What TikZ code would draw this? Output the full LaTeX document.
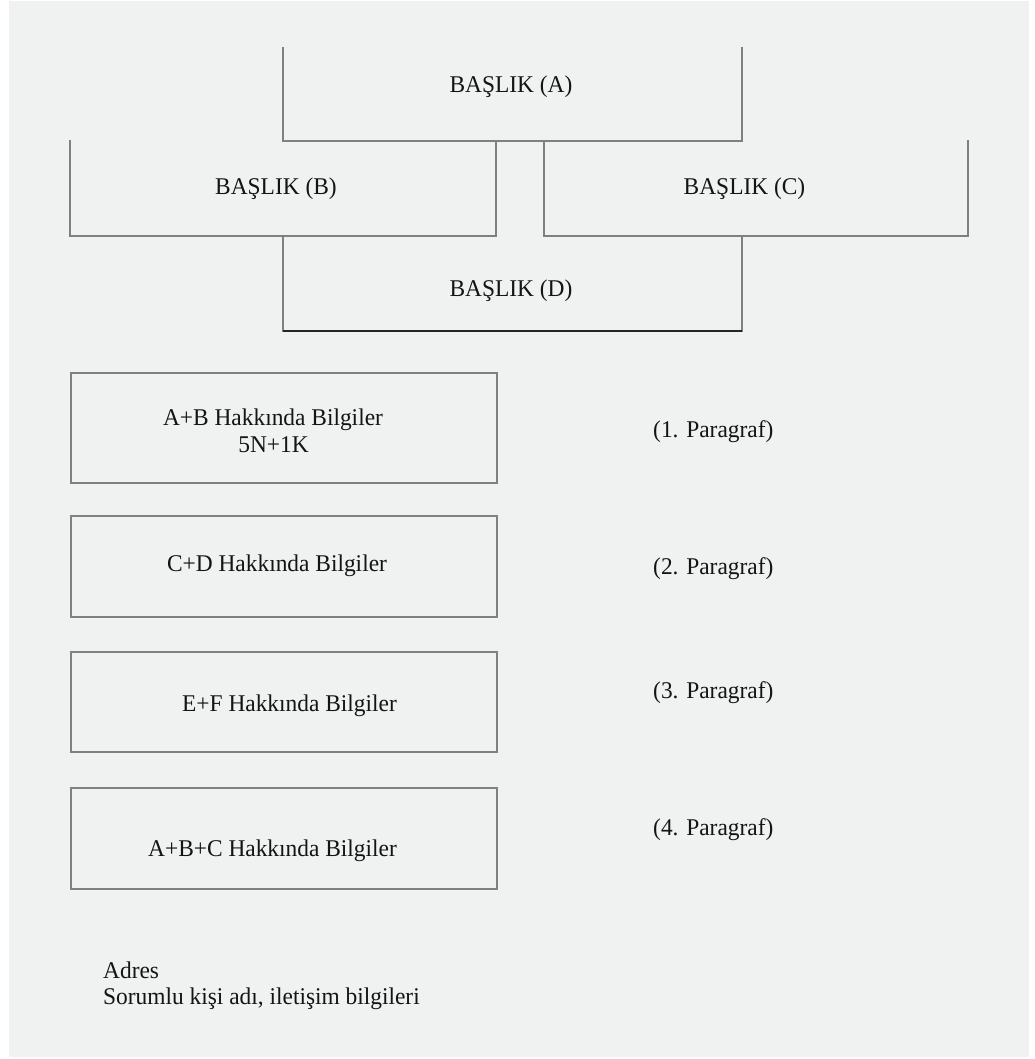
\documentclass[tikz,border=0pt]{standalone}
\usepackage{fontspec}
\setmainfont{Liberation Serif}[FakeStretch=0.975]
\definecolor{bgray}{RGB}{240,241,241}
\definecolor{lgray}{RGB}{128,128,128}
\definecolor{tcol}{RGB}{20,20,20}
\tikzset{
  txt/.style={inner sep=0pt, text=tcol, font=\fontsize{24}{28}\selectfont, anchor=base},
  frame/.style={draw=none, inner sep=0pt, outer sep=0pt},
  infobox/.style={draw=lgray, line width=2pt, inner sep=0pt, outer sep=0pt, minimum width=426pt},
  edge/.style={draw=lgray, line width=2pt, line cap=rect}
}
\begin{document}
\begin{tikzpicture}[x=1pt,y=-1pt]
\useasboundingbox (0,0) rectangle (1034,1059);
\fill[white] (0,0) rectangle (1034,1059);
\fill[bgray] (9,1) rectangle (1029,1057);

% open-top frames
\node[frame, minimum width=459pt, minimum height=93pt] (fA) at (512.5,94.5) {};
\node[frame, minimum width=426pt, minimum height=95pt] (fB) at (283,188.5) {};
\node[frame, minimum width=424pt, minimum height=95pt] (fC) at (756,188.5) {};
\node[frame, minimum width=459pt, minimum height=95pt] (fD) at (512.5,283.5) {};

\draw[edge] (fA.north west) -- (fA.south west) -- (fA.south east) -- (fA.north east);
\draw[edge] (fB.north west) -- (fB.south west) -- (fB.south east) -- (fB.north east);
\draw[edge] (fC.north west) -- (fC.south west) -- (fC.south east) -- (fC.north east);
\draw[edge] (fD.south east) -- (fD.north east);
\draw[edge] (fD.north west) -- (fD.south west);
\draw[draw=black!85, line width=2pt] (fD.south west) -- (fD.south east);

\node[txt] (tA) at (511,93) {BAŞLIK (A)};
\node[txt] (tB) at (276,195) {BAŞLIK (B)};
\node[txt] (tC) at (744.5,195) {BAŞLIK (C)};
\node[txt] (tD) at (511,296) {BAŞLIK (D)};

% information boxes
\node[infobox, minimum height=110pt] (b1) at (284,428) {};
\node[infobox, minimum height=101pt] (b2) at (284,566.5) {};
\node[infobox, minimum height=100pt] (b3) at (284,702) {};
\node[infobox, minimum height=101pt] (b4) at (284,838.5) {};

\node[txt] (t1a) at (273,425) {A+B Hakkında Bilgiler};
\node[txt] (t1b) at (273.5,452) {5N+1K};
\node[txt] (t2) at (277,571) {C+D Hakkında Bilgiler};
\node[txt] (t3) at (289.5,711) {E+F Hakkında Bilgiler};
\node[txt] (t4) at (272.5,856) {A+B+C Hakkında Bilgiler};

\node[txt, anchor=base west] (p1) at (653,437) {(1. Paragraf)};
\node[txt, anchor=base west] (p2) at (653,574) {(2. Paragraf)};
\node[txt, anchor=base west] (p3) at (653,698) {(3. Paragraf)};
\node[txt, anchor=base west] (p4) at (653,835) {(4. Paragraf)};

\node[txt, anchor=base west] (adr) at (103,978) {Adres};
\node[txt, anchor=base west] (sor) at (103,1004) {Sorumlu kişi adı, iletişim bilgileri};
\end{tikzpicture}
\end{document}
